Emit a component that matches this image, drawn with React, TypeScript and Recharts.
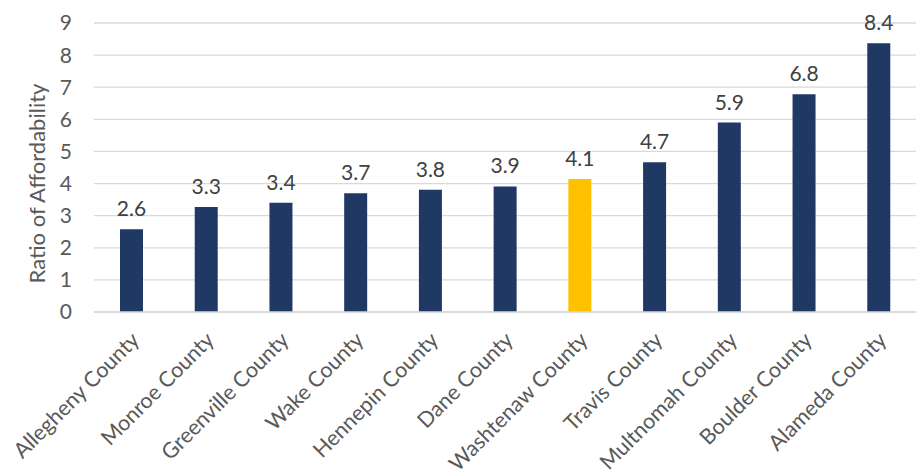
import { Bar, BarChart, CartesianGrid, Cell, LabelList, XAxis, YAxis } from "recharts"

const counties = [
  "Allegheny County",
  "Monroe County",
  "Greenville County",
  "Wake County",
  "Hennepin County",
  "Dane County",
  "Washtenaw County",
  "Travis County",
  "Multnomah County",
  "Boulder County",
  "Alameda County",
]
const ratios = [2.58, 3.27, 3.4, 3.7, 3.81, 3.91, 4.14, 4.66, 5.9, 6.78, 8.37]
const ratioLabels = ["2.6", "3.3", "3.4", "3.7", "3.8", "3.9", "4.1", "4.7", "5.9", "6.8", "8.4"]
const yTicks = [0, 1, 2, 3, 4, 5, 6, 7, 8, 9]
const highlight = "Washtenaw County"

const FONT = "Lato, 'Open Sans', sans-serif"

function CountyTick(props: any) {
  const { x, y, payload } = props
  return (
    <g transform={`translate(${x + 4},${y + 22})`}>
      <text
        transform="rotate(-45)"
        textAnchor="end"
        dy="0.35em"
        fill="#595959"
        fontSize={21.5}
        fontFamily={FONT}
      >
        {payload.value}
      </text>
    </g>
  )
}

export default function App() {
  const data = counties.map((county, i) => ({
    county,
    ratio: ratios[i],
    label: ratioLabels[i],
  }))

  return (
    <div style={{ position: "absolute", left: 0, top: 0, background: "#fff" }}>
      <BarChart
        width={923}
        height={476}
        data={data}
        margin={{ top: 23, right: 7, left: 0, bottom: 0 }}
        barSize={23}
      >
        <CartesianGrid vertical={false} stroke="#d9d9d9" strokeWidth={1.3} />
        <XAxis
          dataKey="county"
          interval={0}
          height={164}
          tickLine={false}
          tickSize={0}
          axisLine={{ stroke: "#d9d9d9", strokeWidth: 1.3 }}
          tick={<CountyTick />}
        />
        <YAxis
          domain={[0, 9]}
          ticks={yTicks}
          width={94}
          axisLine={false}
          tickLine={false}
          tickSize={0}
          tickMargin={22}
          tick={{ fill: "#595959", fontSize: 21, fontFamily: FONT }}
          label={{
            value: "Ratio of Affordability",
            angle: -90,
            position: "insideLeft",
            dx: 32,
            dy: 16,
            style: { fill: "#595959", fontSize: 22, fontFamily: FONT, textAnchor: "middle" },
          }}
        />
        <Bar dataKey="ratio" isAnimationActive={false}>
          {data.map((d) => (
            <Cell key={d.county} fill={d.county === highlight ? "#FFC000" : "#203864"} />
          ))}
          <LabelList
            dataKey="label"
            position="top"
            offset={13}
            fill="#404040"
            fontSize={21}
            fontFamily={FONT}
          />
        </Bar>
      </BarChart>
    </div>
  )
}
